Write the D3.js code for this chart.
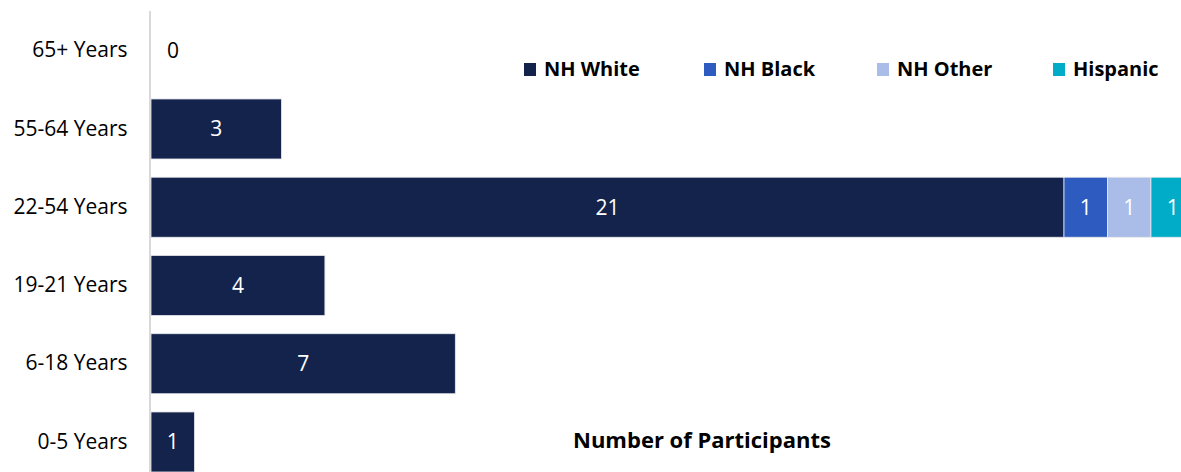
<!DOCTYPE html>
<html>
<head>
<meta charset="utf-8">
<script src="https://cdn.jsdelivr.net/npm/d3@7"></script>
<style>
  body { margin: 0; background: #fff; }
  svg { display: block; font-family: "Open Sans", sans-serif; }
</style>
</head>
<body>
<div id="chart-area"></div>
<script>
// categories top to bottom
const ageGroups = ["65+ Years", "55-64 Years", "22-54 Years", "19-21 Years", "6-18 Years", "0-5 Years"];
const seriesNames = ["NH White", "NH Black", "NH Other", "Hispanic"];
const seriesColors = ["#13234b", "#2e5bbf", "#a9bde8", "#00acc8"];

// values per series, same order as ageGroups
const nhWhite  = [0, 3, 21, 4, 7, 1];
const nhBlack  = [0, 0, 1, 0, 0, 0];
const nhOther  = [0, 0, 1, 0, 0, 0];
const hispanic = [0, 0, 1, 0, 0, 0];

const width = 1181, height = 472;

const svg = d3.select("#chart-area")
  .append("svg")
    .attr("width", width)
    .attr("height", height);

const rows = ageGroups.map((g, i) => ({
  group: g,
  "NH White": nhWhite[i],
  "NH Black": nhBlack[i],
  "NH Other": nhOther[i],
  "Hispanic": hispanic[i]
}));

const stacked = d3.stack().keys(seriesNames)(rows);

// x: 0 at the axis line, 21 units ~ 913px
const xScale = d3.scaleLinear()
  .domain([0, 21])
  .range([151, 1064]);

// step ~78.25px, bars 60px high
const yScale = d3.scaleBand()
  .domain(ageGroups)
  .range([11.6, 481.1])
  .paddingInner(0.233)
  .paddingOuter(0.1165);

const colour = d3.scaleOrdinal().domain(seriesNames).range(seriesColors);

// bars
const layers = svg.selectAll("g.layer")
  .data(stacked)
  .enter().append("g")
    .attr("class", "layer")
    .attr("fill", d => colour(d.key));

layers.selectAll("rect")
  .data(d => d.map(p => ({ key: d.key, p: p })))
  .enter().append("rect")
    .filter(d => d.p[1] - d.p[0] > 0)
    .attr("x", d => xScale(d.p[0]))
    .attr("y", d => yScale(d.p.data.group))
    .attr("width", d => xScale(d.p[1]) - xScale(d.p[0]))
    .attr("height", yScale.bandwidth())
    .attr("stroke", "#e8e8ee")
    .attr("stroke-width", 0.8);

// data labels
layers.selectAll("text")
  .data(d => d.map(p => ({ key: d.key, p: p })))
  .enter().append("text")
    .filter(d => d.p[1] - d.p[0] > 0 || (d.key === "NH White" && d.p.data.group === "65+ Years"))
    .attr("x", d => {
      const v = d.p[1] - d.p[0];
      return v > 0 ? (xScale(d.p[0]) + xScale(d.p[1])) / 2 : xScale(0) + 22;
    })
    .attr("y", d => yScale(d.p.data.group) + yScale.bandwidth() / 2)
    .attr("dy", "0.35em")
    .attr("text-anchor", "middle")
    .attr("font-size", 21)
    .attr("fill", d => (d.p[1] - d.p[0] > 0 ? "#ffffff" : "#000000"))
    .text(d => d.p[1] - d.p[0]);

// y axis
const yAxis = d3.axisLeft(yScale).tickSize(0).tickPadding(23);
const yAxisG = svg.append("g")
  .attr("transform", "translate(150.5,0)")
  .call(yAxis);
yAxisG.select(".domain").remove();
yAxisG.selectAll("text")
  .attr("font-size", 21)
  .attr("font-family", "'Open Sans', sans-serif")
  .attr("fill", "#000");

svg.append("line")
  .attr("x1", 150).attr("x2", 150)
  .attr("y1", 11).attr("y2", height)
  .attr("stroke", "#d9d9d9")
  .attr("stroke-width", 2);

// legend
const legendX = [524, 704, 877, 1053];
const legend = svg.selectAll("g.legend")
  .data(seriesNames)
  .enter().append("g")
    .attr("class", "legend")
    .attr("transform", (d, i) => "translate(" + legendX[i] + ",0)");

legend.append("rect")
  .attr("width", 12).attr("height", 13)
  .attr("y", 63)
  .attr("fill", d => colour(d));

legend.append("text")
  .attr("x", 20)
  .attr("y", 76)
  .attr("font-size", 20)
  .attr("font-weight", "bold")
  .attr("fill", "#000")
  .text(d => d);

// axis title
svg.append("text")
  .attr("x", 702)
  .attr("y", 448)
  .attr("text-anchor", "middle")
  .attr("font-size", 22)
  .attr("font-weight", "bold")
  .attr("fill", "#000")
  .text("Number of Participants");
</script>
</body>
</html>
